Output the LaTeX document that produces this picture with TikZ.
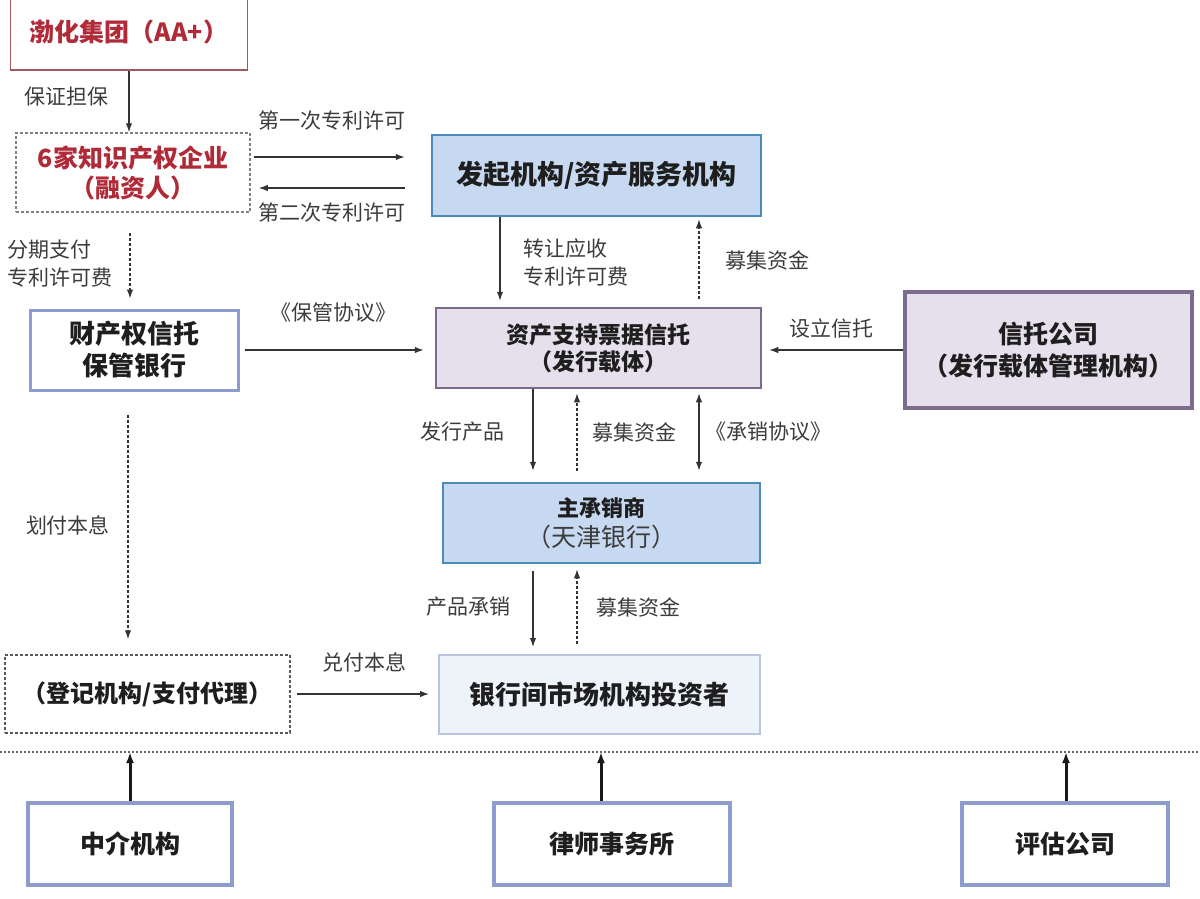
\documentclass[tikz,border=0pt]{standalone}
\usepackage{fontspec}
\newfontfamily\cjk{Noto Sans CJK SC}
\usetikzlibrary{positioning,calc,arrows.meta}
\definecolor{redtxt}{HTML}{B02A38}
\definecolor{redline}{HTML}{A0585C}
\definecolor{boxtxt}{HTML}{1E1E1E}
\definecolor{lbltxt}{HTML}{3C3C3C}
\definecolor{arrcol}{HTML}{333333}
\definecolor{bluefill}{HTML}{C6D9F1}
\definecolor{blueline}{HTML}{4C8CBC}
\definecolor{purpfill}{HTML}{E6E0EC}
\definecolor{purpline}{HTML}{7D6B8D}
\definecolor{grayblue}{HTML}{8D9CCC}
\definecolor{palefill}{HTML}{EEF2F9}
\definecolor{paleline}{HTML}{B8C5DD}
\begin{document}
\begin{tikzpicture}[x=1pt,y=-1pt,
   box/.style={draw=#1,line width=2.5pt,inner sep=0pt,align=center,text=boxtxt,
     font=\cjk\bfseries\fontsize{25}{31}\selectfont},
   box/.default=black,
   dotbox/.style={box=gray,line width=1.5pt,dash pattern=on 3pt off 2pt},
   lbl/.style={font=\cjk\fontsize{21}{28}\selectfont,text=lbltxt,inner sep=0pt,align=left},
   >={Latex[length=9pt,width=6.5pt]},
   arr/.style={->,line width=1.3pt,draw=arrcol},
   darr/.style={arr,dash pattern=on 3pt off 2pt}]
 \useasboundingbox[fill=white] (0,0) rectangle (1200,898);
 % boxes
 \node[box=redline,line width=1.5pt,text=redtxt,minimum width=237pt,minimum height=76pt] (bohua) at (129,32) {渤化集团（AA+）};
 \node[dotbox,text=redtxt,minimum width=234pt,minimum height=79pt,font=\cjk\bfseries\fontsize{25}{30}\selectfont] (qiye) at (133,172.5) {6家知识产权企业\\（融资人）};
 \node[box=blueline,fill=bluefill,minimum width=329pt,minimum height=81pt,font=\cjk\bfseries\fontsize{27}{31}\selectfont] (faqi) at (596.5,175.5) {发起机构/资产服务机构};
 \node[box=grayblue,line width=3pt,fill=white,minimum width=208pt,minimum height=80pt,font=\cjk\bfseries\fontsize{26}{32}\selectfont] (baoguan) at (134,350) {财产权信托\\保管银行};
 \node[box=purpline,fill=purpfill,minimum width=325pt,minimum height=80pt,font=\cjk\bfseries\fontsize{23}{27}\selectfont] (xintuo) at (598.5,348) {资产支持票据信托\\（发行载体）};
 \node[box=purpline,line width=3.5pt,fill=purpfill,minimum width=287pt,minimum height=116pt,font=\cjk\bfseries\fontsize{25}{32}\selectfont] (gongsi) at (1048.5,350) {信托公司\\（发行载体管理机构）};
 \node[box=blueline,fill=bluefill,minimum width=317pt,minimum height=80pt,font=\cjk\bfseries\fontsize{22}{30}\selectfont] (chengxiao) at (601.5,523) {主承销商\\{\mdseries\fontsize{25}{30}\selectfont\color{lbltxt}（天津银行）}};
 \node[dotbox,draw=black!65,minimum width=285pt,minimum height=78pt,font=\cjk\bfseries\fontsize{24}{30}\selectfont] (dengji) at (147.5,694) {（登记机构/支付代理）};
 \node[box=paleline,line width=2pt,fill=palefill,minimum width=321pt,minimum height=79pt,font=\cjk\bfseries\fontsize{26}{30}\selectfont] (touzi) at (599.5,694.5) {银行间市场机构投资者};
 \node[box=grayblue,line width=3.5pt,fill=white,minimum width=204pt,minimum height=82pt] (zhongjie) at (130,844) {中介机构};
 \node[box=grayblue,line width=3.5pt,fill=white,minimum width=236pt,minimum height=82pt] (lvshi) at (612,844) {律师事务所};
 \node[box=grayblue,line width=3.5pt,fill=white,minimum width=206pt,minimum height=82pt] (pinggu) at (1065,844) {评估公司};
 % connectors
 \draw[arr] (bohua.south) -- (bohua.south |- qiye.north);
 \draw[arr,shorten <=3pt,shorten >=26pt] ([yshift=15.5pt]qiye.east) -- ([yshift=15.5pt]qiye.east -| faqi.west);
 \draw[arr,shorten <=26pt,shorten >=8pt] ([yshift=-15.5pt]qiye.east -| faqi.west) -- ([yshift=-15.5pt]qiye.east);
 \draw[darr,shorten <=20pt,shorten >=10pt] ([xshift=-3pt]qiye.south) -- ([xshift=-3pt]qiye.south |- baoguan.north);
 \draw[arr,shorten <=5pt,shorten >=11pt] (baoguan.east) -- (baoguan.east -| xintuo.west);
 \draw[arr,shorten >=6pt] ([xshift=-96.5pt]faqi.south) -- ([xshift=-96.5pt]faqi.south |- xintuo.north);
 \draw[darr,shorten <=8pt,shorten >=2pt] ([xshift=102.5pt]faqi.south |- xintuo.north) -- ([xshift=102.5pt]faqi.south);
 \draw[arr,shorten >=7pt] (gongsi.west) -- (gongsi.west -| xintuo.east);
 \draw[arr,shorten >=11pt] ([xshift=-65.5pt]xintuo.south) -- ([xshift=-65.5pt]xintuo.south |- chengxiao.north);
 \draw[darr,shorten <=11pt,shorten >=4pt] ([xshift=-21.5pt]xintuo.south |- chengxiao.north) -- ([xshift=-21.5pt]xintuo.south);
 \draw[arr,<->,shorten <=4pt,shorten >=11pt] ([xshift=100.5pt]xintuo.south) -- ([xshift=100.5pt]xintuo.south |- chengxiao.north);
 \draw[arr,shorten <=7pt,shorten >=7pt] ([xshift=-68.5pt]chengxiao.south) -- ([xshift=-68.5pt]chengxiao.south |- touzi.north);
 \draw[darr,shorten <=10pt,shorten >=5pt] ([xshift=-24.5pt]chengxiao.south |- touzi.north) -- ([xshift=-24.5pt]chengxiao.south);
 \draw[darr,shorten <=23pt,shorten >=15pt] ([xshift=-6pt]baoguan.south) -- ([xshift=-6pt]baoguan.south |- dengji.north);
 \draw[arr,shorten <=6pt,shorten >=9pt] (dengji.east) -- (dengji.east -| touzi.west);
 % separator and support
 \coordinate (sepl) at (0,752);
 \coordinate (sepr) at (1200,752);
 \draw[black!60,line width=1.5pt,dash pattern=on 2pt off 2pt] (sepl) -- (sepr);
 \foreach \n/\dx in {zhongjie/0,lvshi/-11,pinggu/1}
  \draw[arr,line width=3pt,draw=black!90,>={Latex[length=11pt,width=8pt]}] ([xshift=\dx pt]\n.north) -- ([xshift=\dx pt]\n.north |- sepl);
 % labels
 \node[lbl] (l1) at (66,97) {保证担保};
 \node[lbl] (l2) at (332,121) {第一次专利许可};
 \node[lbl] (l3) at (332,213) {第二次专利许可};
 \node[lbl] (l4) at (60,264) {分期支付\\专利许可费};
 \node[lbl] (l5) at (576,262) {转让应收\\专利许可费};
 \node[lbl] (l6) at (767,260) {募集资金};
 \node[lbl] (l7) at (333,313) {《保管协议》};
 \node[lbl] (l8) at (831,328) {设立信托};
 \node[lbl] (l9) at (462,432) {发行产品};
 \node[lbl] (l10) at (634,432) {募集资金};
 \node[lbl] (l11) at (768,432) {《承销协议》};
 \node[lbl] (l12) at (68,525) {划付本息};
 \node[lbl] (l13) at (468,607) {产品承销};
 \node[lbl] (l14) at (638,607) {募集资金};
 \node[lbl] (l15) at (364,662) {兑付本息};
\end{tikzpicture}
\end{document}
